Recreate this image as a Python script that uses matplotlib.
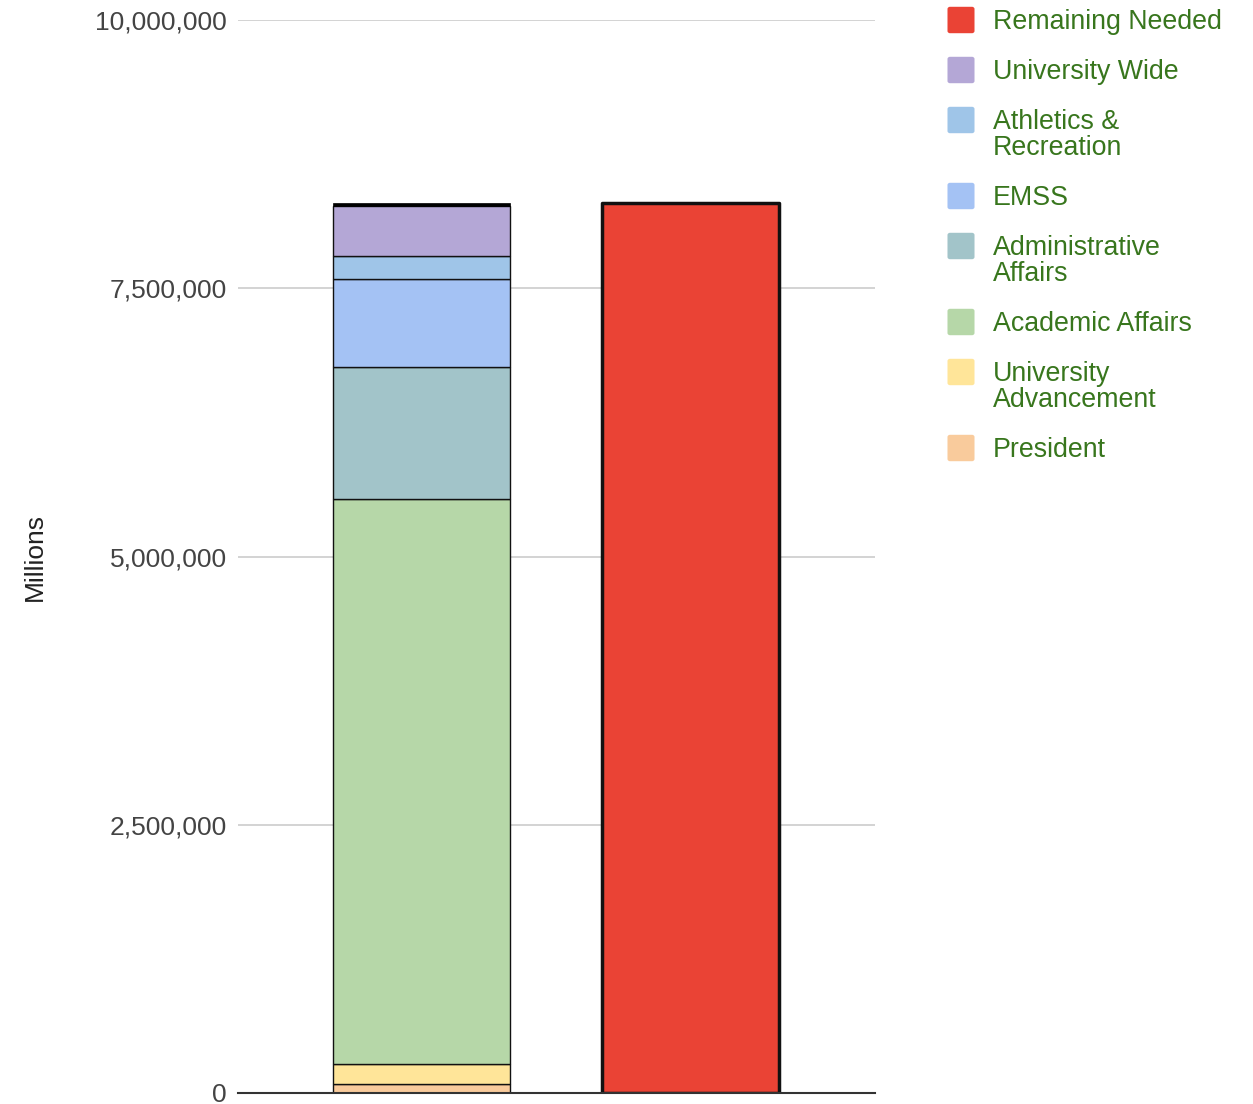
import matplotlib.pyplot as plt
from matplotlib.patches import FancyBboxPatch
from matplotlib.ticker import FuncFormatter

plt.rcParams['font.family'] = ['Liberation Sans', 'DejaVu Sans']

# stacked segments of the first bar, bottom to top
divisions = ["President", "University Advancement", "Academic Affairs",
             "Administrative Affairs", "EMSS", "Athletics & Recreation",
             "University Wide"]
amounts = [84000, 186000, 5266000, 1230000, 820000, 214000, 466000]
colors = ["#f9cb9c", "#ffe599", "#b6d7a8", "#a2c4c9", "#a4c2f4", "#9fc5e8", "#b4a7d6"]
top_sliver = 32000  # thin black band on top of the stack

remaining_needed = 8295000
remaining_color = "#ea4335"

legend_labels = ["Remaining Needed", "University Wide", "Athletics &\nRecreation", "EMSS",
                 "Administrative\nAffairs", "Academic Affairs", "University\nAdvancement",
                 "President"]
legend_colors = [remaining_color, "#b4a7d6", "#9fc5e8", "#a4c2f4", "#a2c4c9",
                 "#b6d7a8", "#ffe599", "#f9cb9c"]

W, H = 1253, 1104
fig = plt.figure(figsize=(W / 100, H / 100), dpi=100)
ax = fig.add_axes([238 / W, 11 / H, 637 / W, 1073 / H])

bar_w = 0.657
bottom = 0
for name, val, c in zip(divisions, amounts, colors):
    ax.bar(0, val, bottom=bottom, width=bar_w, color=c, edgecolor="#111111",
           linewidth=1, zorder=3)
    bottom += val
ax.bar(0, top_sliver, bottom=bottom, width=bar_w, color="#000000",
       edgecolor="#000000", linewidth=0.5, zorder=3)

red = ax.bar(1, remaining_needed, width=bar_w, color=remaining_color, edgecolor="#111111",
             linewidth=2.5, zorder=3)
red[0].set_joinstyle("round")

ax.set_xlim(-0.681, 1.683)
ax.set_ylim(0, 10000000)
ax.set_yticks([0, 2500000, 5000000, 7500000, 10000000])
ax.yaxis.set_major_formatter(FuncFormatter(lambda v, p: f"{int(v):,}"))
ax.set_xticks([])
ax.grid(axis="y", color="#cccccc", linewidth=1.2, zorder=0)
for s in ["top", "right", "left"]:
    ax.spines[s].set_visible(False)
ax.spines["bottom"].set_color("#333333")
ax.spines["bottom"].set_linewidth(1.5)
ax.spines["bottom"].set_zorder(4)
ax.tick_params(axis="y", length=0, pad=8, labelsize=19, labelcolor="#444444")

fig.text(35 / W, 1 - 557 / H, "Millions", rotation=90, ha="center", va="center",
         fontsize=19, color="#222222")

# legend drawn by hand to match the stacked layout on the right
ys = [20, 70, 120, 196, 246, 322, 372, 448]
for lab, c, y in zip(legend_labels, legend_colors, ys):
    sq = FancyBboxPatch(((948 + 2) / W, 1 - (y + 11) / H), 22 / W, 22 / H,
                        boxstyle="round,pad=0.002", transform=fig.transFigure,
                        facecolor=c, edgecolor="none")
    fig.patches.append(sq)
    fig.text(993 / W, 1 - (y - 11) / H, lab, ha="left", va="top", fontsize=19.3,
             color="#38761d", linespacing=1.0)

fig.savefig("out.png", dpi=100)
